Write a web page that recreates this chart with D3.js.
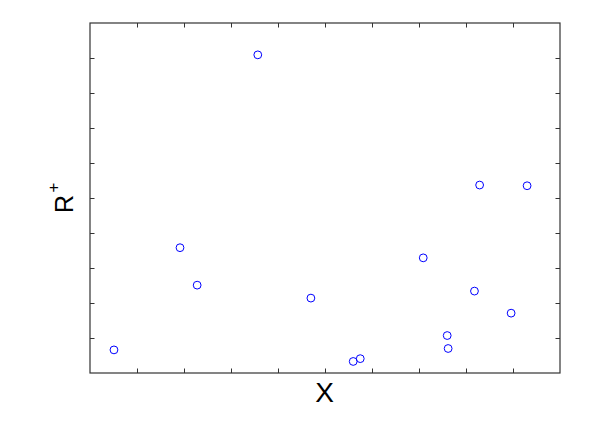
<!DOCTYPE html>
<html>
<head>
<meta charset="utf-8">
<script src="https://cdn.jsdelivr.net/npm/d3@7"></script>
<style>
  html, body { margin: 0; padding: 0; background: #fff; }
  svg { display: block; }
</style>
</head>
<body>
<svg id="chart" width="607" height="429"></svg>
<script>
const xValues = [0.51, 1.915, 2.28, 3.57, 4.70, 5.60, 5.75, 7.09, 7.60, 7.62, 8.18, 8.29, 8.96, 9.30];
const yValues = [0.66, 3.58, 2.51, 9.09, 2.14, 0.33, 0.41, 3.29, 1.07, 0.70, 2.34, 5.37, 1.71, 5.35];
const tickValues = [1, 2, 3, 4, 5, 6, 7, 8, 9];
const xLabel = "X";
const yLabelMain = "R";
const yLabelSup = "+";

(function () {
const svg = d3.select("#chart");
const pL = 90, pR = 560, pT = 23, pB = 373;
const x = d3.scaleLinear().domain([0, 10]).range([pL, pR]);
const y = d3.scaleLinear().domain([0, 10]).range([pB, pT]);
const axisColor = "#333";
const tl = 4.5;

function styleAxis(g) {
  g.select(".domain").remove();
  g.selectAll(".tick line").attr("stroke", axisColor).attr("stroke-width", 1);
  g.selectAll(".tick text").remove();
}
svg.append("g").attr("transform", `translate(0,${pB})`)
  .call(d3.axisBottom(x).tickValues(tickValues).tickSizeInner(-tl).tickSizeOuter(0)).call(styleAxis);
svg.append("g").attr("transform", `translate(0,${pT})`)
  .call(d3.axisTop(x).tickValues(tickValues).tickSizeInner(-tl).tickSizeOuter(0)).call(styleAxis);
svg.append("g").attr("transform", `translate(${pL},0)`)
  .call(d3.axisLeft(y).tickValues(tickValues).tickSizeInner(-tl).tickSizeOuter(0)).call(styleAxis);
svg.append("g").attr("transform", `translate(${pR},0)`)
  .call(d3.axisRight(y).tickValues(tickValues).tickSizeInner(-tl).tickSizeOuter(0)).call(styleAxis);

svg.append("rect")
  .attr("x", x(0)).attr("y", y(10))
  .attr("width", x(10) - x(0)).attr("height", y(0) - y(10))
  .attr("fill", "none").attr("stroke", axisColor).attr("stroke-width", 1.2);

const data = xValues.map((v, i) => ({ x: v, y: yValues[i] }));
svg.append("g").selectAll("circle").data(data).join("circle")
  .attr("cx", d => x(d.x)).attr("cy", d => y(d.y))
  .attr("r", 3.9)
  .attr("fill", "none").attr("stroke", "#0000ff").attr("stroke-width", 1);

svg.append("text")
  .attr("x", (pL + pR) / 2 - 0.5).attr("y", 401.7)
  .attr("text-anchor", "middle")
  .attr("font-family", "Liberation Sans, Arial, sans-serif")
  .attr("font-size", 28)
  .attr("fill", "#000")
  .text(xLabel);

const yl = svg.append("text")
  .attr("transform", "translate(73.3,213) rotate(-90)")
  .attr("font-family", "Liberation Sans, Arial, sans-serif")
  .attr("fill", "#000");
yl.append("tspan").attr("font-size", 25).text(yLabelMain);
yl.append("tspan").attr("font-size", 17).attr("dy", -14.3).attr("dx", 2.5).text(yLabelSup);
})();
</script>
</body>
</html>
